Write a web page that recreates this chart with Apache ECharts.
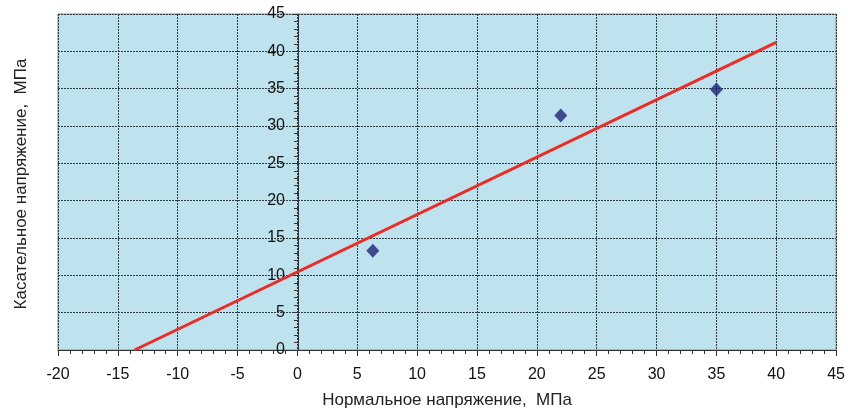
<!DOCTYPE html>
<html><head><meta charset="utf-8">
<script src="https://cdn.jsdelivr.net/npm/echarts@6/dist/echarts.min.js"></script>
<style>html,body{margin:0;padding:0;background:#fff}#c{width:848px;height:414px}</style>
</head><body><div id="c"></div>
<script>
const pointX = [6.3, 22.0, 35.0];
const pointY = [13.3, 31.4, 34.9];
const fitX = [-13.6, 40];
const fitY = [0, 41.2];
const xName = 'Нормальное напряжение,  МПа';
const yName = 'Касательное напряжение,  МПа';

const chart = echarts.init(document.getElementById('c'), null, {renderer:'canvas'});
const font = 'Liberation Sans, Arial, sans-serif';
const gridLeft = 58, gridRight = 10;
const xMin = -20, xMax = 45;
const plotW = 848 - gridLeft - gridRight;
const yAxisOffset = -plotW * (0 - xMin) / (xMax - xMin);
chart.setOption({
  animation:false,
  backgroundColor:'#fff',
  grid:{left:gridLeft, right:gridRight, top:14, bottom:60, show:true, backgroundColor:'#BEE3EE', borderColor:'#8c8c8c', borderWidth:1},
  xAxis:{type:'value', min:xMin, max:xMax, interval:5,
    name:xName, nameLocation:'middle', nameGap:42,
    nameTextStyle:{fontFamily:font, fontSize:17, color:'#222'},
    axisLine:{show:true, onZero:false, lineStyle:{color:'#333', width:1}},
    axisTick:{show:true, length:6, lineStyle:{color:'#333'}},
    minorTick:{show:true, splitNumber:5, length:4, lineStyle:{color:'#333'}},
    axisLabel:{fontFamily:font, fontSize:16, color:'#111', margin:17},
    splitLine:{show:true, lineStyle:{color:'#2e3e40', type:[2,1], width:1}}
  },
  yAxis:{type:'value', min:0, max:45, interval:5, offset:yAxisOffset,
    axisLine:{show:true, onZero:false, lineStyle:{color:'#333', width:1}},
    axisTick:{show:true, length:6, lineStyle:{color:'#333'}},
    minorTick:{show:true, splitNumber:5, length:4, lineStyle:{color:'#333'}},
    axisLabel:{fontFamily:font, fontSize:16, color:'#111', margin:13},
    splitLine:{show:true, lineStyle:{color:'#2e3e40', type:[2,1], width:1}}
  },
  graphic:[{type:'text', x:21, y:184, rotation:Math.PI/2,
    style:{text:yName, font:'17px Liberation Sans, Arial, sans-serif', fill:'#222', align:'center', verticalAlign:'middle'}}],
  series:[
    {type:'line', data:fitX.map((x,i)=>[x,fitY[i]]), symbol:'none', lineStyle:{color:'#EE2A24', width:3}, z:3},
    {type:'scatter', data:pointX.map((x,i)=>[x,pointY[i]]), symbol:'diamond', symbolSize:[13,14], itemStyle:{color:'#1E2378'}, z:4}
  ]
});
</script></body></html>
